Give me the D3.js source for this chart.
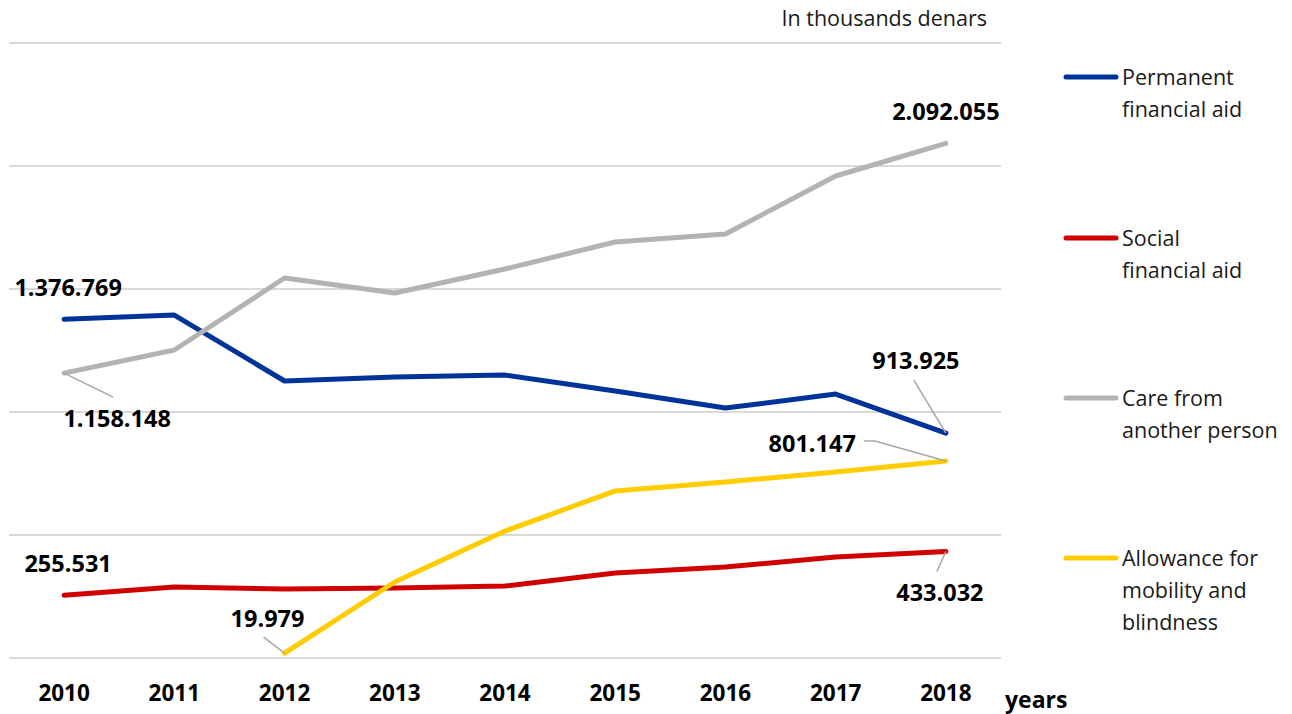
<!DOCTYPE html>
<html><head><meta charset="utf-8">
<script src="https://cdn.jsdelivr.net/npm/d3@7"></script>
<style>body{margin:0;background:#fff}svg{display:block;font-family:"Open Sans","Noto Sans",sans-serif}</style>
</head><body><svg id="c" width="1292" height="714"></svg>
<script>
const years = ["2010","2011","2012","2013","2014","2015","2016","2017","2018"];
const permanentAid = [1376769,1394000,1126000,1142000,1150000,1085000,1016000,1073000,913925];
const socialAid = [255531,288600,280500,284500,292700,345500,370000,410500,433032];
const careAnother = [1158148,1252000,1544700,1483700,1581300,1691000,1723600,1959300,2092055];
const mobilityAllowance = [null,null,19979,309000,516000,679000,715500,756000,801147];
const yTicks = [0,500000,1000000,1500000,2000000,2500000];
const seriesNames = [["Permanent","financial aid"],["Social","financial aid"],["Care from","another person"],["Allowance for","mobility and","blindness"]];
const colors = ["#003399","#d00000","#b3b3b3","#ffcc00"];
const fmt = v => d3.format(",")(v).replace(/,/g,".");

const svg = d3.select("#c");
const x = d3.scaleBand().domain(years).range([9,1001]);
const xc = d => x(d) + x.bandwidth()/2;
const y = d3.scaleLinear().domain([0,2500000]).range([658,43]);

svg.append("g").selectAll("line").data(yTicks).join("line")
  .attr("x1",9).attr("x2",1001).attr("y1",d=>y(d)).attr("y2",d=>y(d))
  .attr("stroke","#d9d9d9").attr("stroke-width",2);

svg.append("g").selectAll("text").data(years).join("text")
  .attr("x",d=>xc(d)).attr("y",701).attr("text-anchor","middle")
  .attr("font-weight","bold").attr("font-size",22.5).attr("fill","#000").text(d=>d);
svg.append("text").attr("x",1005).attr("y",708).attr("font-weight","bold").attr("font-size",23).text("years");
svg.append("text").attr("x",987).attr("y",26).attr("text-anchor","end").attr("font-size",21.5).attr("fill","#1a1a1a").text("In thousands denars");

const all = [permanentAid, socialAid, careAnother, mobilityAllowance];
const line = d3.line().defined(d=>d[1]!=null).x(d=>xc(d[0])).y(d=>y(d[1]));
[0,1,2,3].forEach(i=>{
  svg.append("path").datum(years.map((yr,j)=>[yr,all[i][j]]))
    .attr("d",line).attr("fill","none").attr("stroke",colors[i])
    .attr("stroke-width",5).attr("stroke-linejoin","round").attr("stroke-linecap","round");
});

const labels = [
  [0,0,4,-31,"middle",null],
  [2,0,53,46,"middle",[[0,0],[49,24]]],
  [0,8,-30,-72,"middle",[[0,0],[-32,-53]]],
  [3,8,-90,-17,"end",[[0,0],[-71,-20],[-82,-20]]],
  [2,8,0,-31,"middle",null],
  [1,0,4,-31,"middle",null],
  [1,8,-6,42,"middle",[[0,0],[-9,20]]],
  [3,2,-17,-34,"middle",[[0,0],[-21,-16]]]
];
labels.forEach(([s,i,dx,dy,anchor,leader])=>{
  const px = xc(years[i]), py = y(all[s][i]);
  if(leader){
    svg.append("polyline").attr("points",leader.map(p=>[px+p[0],py+p[1]].join(",")).join(" "))
      .attr("fill","none").attr("stroke","#a6a6a6").attr("stroke-width",1.5);
  }
  svg.append("text").attr("x",px+dx).attr("y",py+dy+8).attr("text-anchor",anchor)
    .attr("font-weight","bold").attr("font-size",23.5).attr("fill","#000").text(fmt(all[s][i]));
});

const legY = [77,238,398,558];
seriesNames.forEach((names,i)=>{
  const g = svg.append("g");
  g.append("line").attr("x1",1066).attr("x2",1116).attr("y1",legY[i]).attr("y2",legY[i])
    .attr("stroke",colors[i]).attr("stroke-width",5).attr("stroke-linecap","round");
  names.forEach((t,k)=>{
    g.append("text").attr("x",1122).attr("y",legY[i]+8+k*32).attr("font-size",21.5).attr("fill","#1a1a1a").text(t);
  });
});
</script></body></html>
